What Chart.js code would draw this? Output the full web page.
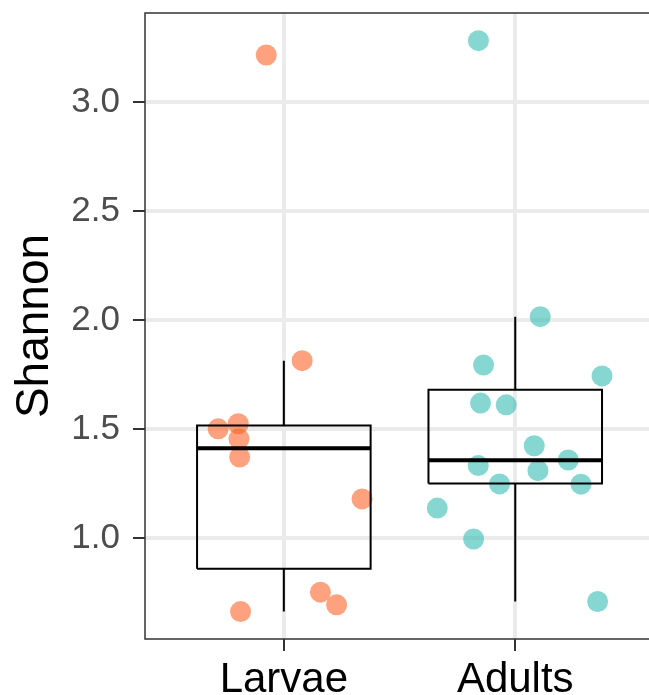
<!DOCTYPE html>
<html>
<head>
<meta charset="utf-8">
<script src="https://cdn.jsdelivr.net/npm/chart.js@4"></script>
<style>
  html, body { margin: 0; padding: 0; background: #fff; overflow: hidden; }
  canvas { display: block; }
</style>
</head>
<body>
<canvas id="shannonChart" width="649" height="695"></canvas>
<script>
// Groups and y ticks
const groups = ['Larvae', 'Adults'];
const groupPos = [1, 2];
const yTicks = [1.0, 1.5, 2.0, 2.5, 3.0];

// Jittered points (x in group units, y = Shannon)
const larvaeX = [0.924, 1.079, 0.716, 0.803, 0.806, 0.809, 1.338, 1.158, 1.228, 0.813];
const larvaeY = [3.217, 1.814, 1.501, 1.524, 1.455, 1.371, 1.179, 0.751, 0.693, 0.662];
const adultsX = [1.841, 2.108, 1.863, 2.375, 1.850, 1.961, 2.082, 1.840, 2.229, 2.098, 1.932, 2.284, 1.663, 1.820, 2.356];
const adultsY = [3.283, 2.016, 1.794, 1.744, 1.619, 1.611, 1.423, 1.332, 1.358, 1.309, 1.248, 1.247, 1.137, 0.995, 0.708];

// Box statistics per group
const whiskerLow = [0.662, 0.708];
const q1 = [0.858, 1.250];
const median = [1.412, 1.357];
const q3 = [1.516, 1.680];
const whiskerHigh = [1.813, 2.016];
const boxWidth = 0.75;

function toPoints(xs, ys) {
    return xs.map((x, i) => ({ x: x, y: ys[i] }));
}

// box outline + whiskers as line segments (null breaks the line)
function boxOutline() {
    const pts = [];
    groupPos.forEach((c, i) => {
        const l = c - boxWidth / 2, r = c + boxWidth / 2;
        pts.push({ x: l, y: q1[i] }, { x: r, y: q1[i] }, { x: r, y: q3[i] },
                 { x: l, y: q3[i] }, { x: l, y: q1[i] }, { x: null, y: null });
        pts.push({ x: c, y: q3[i] }, { x: c, y: whiskerHigh[i] }, { x: null, y: null });
        pts.push({ x: c, y: q1[i] }, { x: c, y: whiskerLow[i] }, { x: null, y: null });
    });
    return pts;
}

function medianLines() {
    const pts = [];
    groupPos.forEach((c, i) => {
        pts.push({ x: c - boxWidth / 2, y: median[i] }, { x: c + boxWidth / 2, y: median[i] }, { x: null, y: null });
    });
    return pts;
}

// panel border like theme_bw (right side falls outside the picture)
const panelBorder = {
    id: 'panelBorder',
    afterDraw(chart) {
        const a = chart.chartArea;
        const ctx = chart.ctx;
        ctx.save();
        ctx.strokeStyle = '#333333';
        ctx.lineWidth = 1.5;
        ctx.beginPath();
        ctx.moveTo(chart.width, a.top);
        ctx.lineTo(a.left, a.top);
        ctx.lineTo(a.left, a.bottom);
        ctx.lineTo(chart.width, a.bottom);
        ctx.stroke();
        ctx.restore();
    }
};

const font = '"Liberation Sans", Arial, sans-serif';

new Chart(document.getElementById('shannonChart'), {
    type: 'scatter',
    data: {
        datasets: [
            {
                data: boxOutline(),
                showLine: true,
                spanGaps: false,
                borderColor: '#000',
                borderWidth: 2,
                pointRadius: 0,
                order: 0
            },
            {
                data: medianLines(),
                showLine: true,
                spanGaps: false,
                borderColor: '#000',
                borderWidth: 4,
                pointRadius: 0,
                order: 0
            },
            {
                data: toPoints(larvaeX, larvaeY),
                backgroundColor: 'rgba(252, 98, 40, 0.6)',
                borderWidth: 0,
                pointRadius: 10.5,
                order: 1
            },
            {
                data: toPoints(adultsX, adultsY),
                backgroundColor: 'rgba(54, 189, 179, 0.6)',
                borderWidth: 0,
                pointRadius: 10.5,
                order: 1
            }
        ]
    },
    options: {
        responsive: false,
        animation: false,
        devicePixelRatio: 1,
        layout: { autoPadding: false, padding: { top: 13, right: 0, left: 0, bottom: 0 } },
        plugins: {
            legend: { display: false },
            tooltip: { enabled: false }
        },
        scales: {
            x: {
                type: 'linear',
                min: 0.4,
                max: 2.578,
                afterBuildTicks: scale => { scale.ticks = groupPos.map(v => ({ value: v })); },
                afterFit: scale => { scale.height = 56; scale.paddingLeft = 0; scale.paddingRight = 0; },
                border: { display: false },
                grid: {
                    color: '#EBEBEB',
                    lineWidth: 4,
                    tickColor: '#333333',
                    tickWidth: 2,
                    tickLength: 12
                },
                ticks: {
                    autoSkip: false,
                    maxRotation: 0,
                    padding: 4,
                    color: '#000',
                    font: { family: font, size: 42 },
                    callback: v => groups[groupPos.indexOf(v)]
                }
            },
            y: {
                type: 'linear',
                min: 0.536,
                max: 3.41,
                afterBuildTicks: scale => { scale.ticks = yTicks.map(v => ({ value: v })); },
                afterFit: scale => { scale.width = 145; scale.paddingTop = 0; scale.paddingBottom = 0; },
                border: { display: false },
                grid: {
                    color: '#EBEBEB',
                    lineWidth: 4,
                    tickColor: '#333333',
                    tickWidth: 2,
                    tickLength: 12
                },
                ticks: {
                    padding: 13,
                    color: '#4D4D4D',
                    font: { family: font, size: 35 },
                    callback: v => v.toFixed(1)
                },
                title: {
                    display: true,
                    text: 'Shannon',
                    color: '#000',
                    padding: { top: 8, bottom: 0 },
                    font: { family: font, size: 46 }
                }
            }
        }
    },
    plugins: [panelBorder]
});
</script>
</body>
</html>
